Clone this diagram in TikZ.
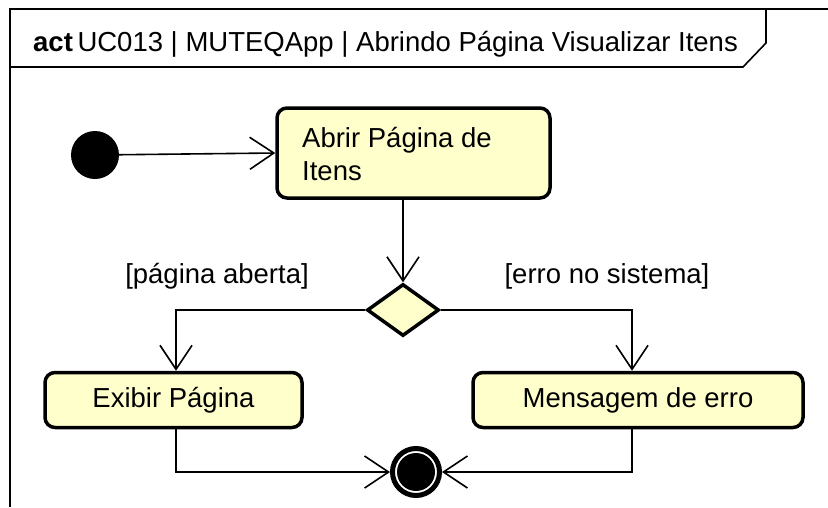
\documentclass[tikz,border=0pt]{standalone}
\usepackage{fontspec}
\setmainfont{Liberation Sans}
\usetikzlibrary{arrows.meta,shapes.geometric}
\definecolor{actfill}{RGB}{255,255,204}
\tikzset{
  conn/.style={line width=1.6pt, -{Straight Barb[length=24pt,width=32pt,line width=1.6pt]}},
  actbox/.style={draw, line width=3.5pt, fill=actfill, rounded corners=10pt, inner sep=0pt},
  lbl/.style={font=\fontsize{27.5}{33}\selectfont, inner sep=0pt},
}
\begin{document}
\begin{tikzpicture}[x=1pt,y=-1pt]
\useasboundingbox (0,0) rectangle (828,507);
% frame
\draw[line width=1.8pt] (10,507) -- (10,9) -- (828,9);
\draw[line width=1.6pt] (10,67) -- (743,67) -- (766,43) -- (766,9);
\node[lbl, anchor=base west] (title) at (33,51) {\textbf{act}\,UC013 | MUTEQApp | Abrindo Página Visualizar Itens};
% initial
\node[circle, fill=black, minimum size=48pt, inner sep=0pt] (init) at (95,155) {};
% action 1
\node[actbox, minimum width=273pt, minimum height=90pt] (a1) at (413.5,153) {};
\node[lbl, anchor=base west] (a1t) at (302,147) {Abrir Página de};
\node[lbl, anchor=base west] (a1u) at (302,180) {Itens};
% decision
\node[diamond, draw, line width=3.5pt, fill=actfill, minimum width=72pt, minimum height=52pt, inner sep=0pt] (dec) at (403,310) {};
% actions
\node[actbox, minimum width=257pt, minimum height=55pt, lbl] (a2) at (173.5,400) {Exibir Página};
\node[actbox, minimum width=330pt, minimum height=55pt, lbl] (a3) at (638,400) {Mensagem de erro};
% final
\node[circle, draw, line width=5pt, minimum size=47pt, inner sep=0pt] (fin) at (416,472) {};
\node[circle, fill=black, minimum size=38pt, inner sep=0pt] (finin) at (fin) {};
% connectors
\draw[conn] (init) -- (a1.west);
\draw[conn] (a1.south -| dec.north) -- (dec.north);
\draw[conn] (dec.west) -| (a2.north -| 176,0);
\draw[conn] (dec.east) -| (a3.north -| 632,0);
\draw[conn] (a2.south -| 176,0) |- (fin.west);
\draw[conn] (a3.south -| 632,0) |- (fin.east);
% guards
\node[lbl] (g1) at (217,276) {[página aberta]};
\node[lbl] (g2) at (607,276) {[erro no sistema]};
\end{tikzpicture}
\end{document}
